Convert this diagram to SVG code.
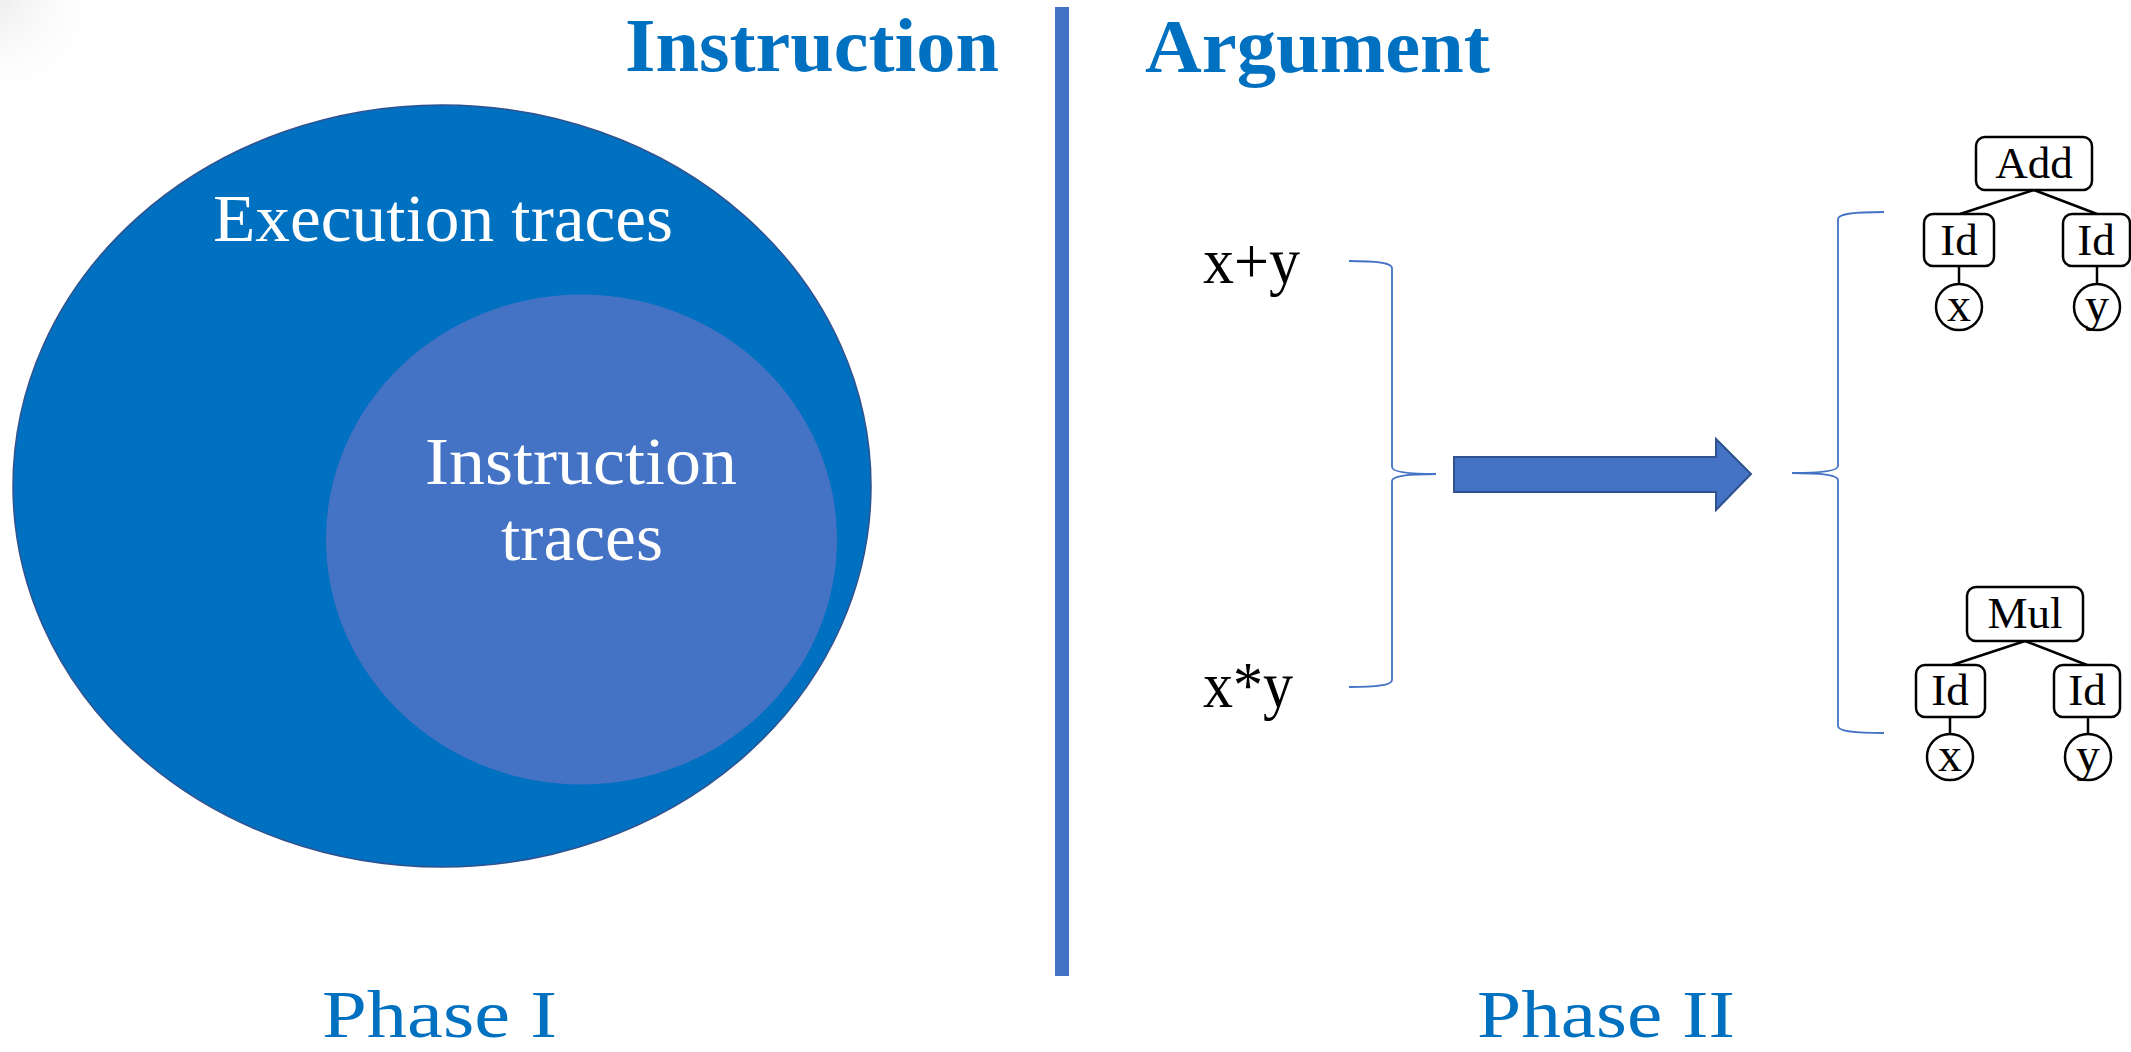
<svg xmlns="http://www.w3.org/2000/svg" width="2131" height="1052" viewBox="0 0 2131 1052">
<style>
.title{font-family:"Liberation Serif",serif;font-weight:bold;font-size:76px;fill:#0070C0}
.phase{font-family:"Liberation Serif",serif;font-size:68px;fill:#0070C0}
.white{font-family:"Liberation Serif",serif;font-size:68px;fill:#ffffff}
.expr{font-family:"Liberation Serif",serif;font-size:66px;fill:#000000}
.tn{font-family:"Liberation Serif",serif;font-size:45px;fill:#000000;text-anchor:middle}
.leaf{font-family:"Liberation Serif",serif;font-size:48px;fill:#000000;text-anchor:middle}
.box{fill:#ffffff;stroke:#000000;stroke-width:2.5}
.edge{stroke:#000000;stroke-width:2.5;fill:none}
.brace{stroke:#4472C4;stroke-width:1.8;fill:none}
</style>
<defs>
<radialGradient id="corner" cx="0" cy="0" r="1" gradientUnits="objectBoundingBox">
<stop offset="0" stop-color="#eeeeee"/>
<stop offset="1" stop-color="#ffffff" stop-opacity="0"/>
</radialGradient>
</defs>
<rect x="0" y="0" width="2131" height="1052" fill="#ffffff"/>
<rect x="0" y="0" width="110" height="110" fill="url(#corner)"/>

<g id="divider"><rect x="1055" y="7" width="14" height="969" fill="#4472C4"/></g>

<g id="title-instruction"><text class="title" x="625" y="71" textLength="374" lengthAdjust="spacingAndGlyphs">Instruction</text></g>
<g id="title-argument"><text class="title" x="1145" y="72" textLength="345" lengthAdjust="spacingAndGlyphs">Argument</text></g>

<g id="execution-traces">
<ellipse cx="442" cy="486" rx="429" ry="381" fill="#0070C0" stroke="#2F528F" stroke-width="1.5"/>
<text class="white" x="213" y="241" textLength="460" lengthAdjust="spacingAndGlyphs">Execution traces</text>
</g>
<g id="instruction-traces">
<ellipse cx="581.5" cy="539.5" rx="255.5" ry="245" fill="#4472C4"/>
<text class="white" x="425" y="484" textLength="312" lengthAdjust="spacingAndGlyphs">Instruction</text>
<text class="white" x="501" y="560" textLength="162" lengthAdjust="spacingAndGlyphs">traces</text>
</g>

<g id="phase1"><text class="phase" x="322" y="1037" textLength="235" lengthAdjust="spacingAndGlyphs">Phase I</text></g>
<g id="phase2"><text class="phase" x="1477" y="1037" textLength="258" lengthAdjust="spacingAndGlyphs">Phase II</text></g>

<g id="expr-add"><text class="expr" x="1203" y="283" textLength="97" lengthAdjust="spacingAndGlyphs">x+y</text></g>
<g id="expr-mul"><text class="expr" x="1203" y="707" textLength="90" lengthAdjust="spacingAndGlyphs">x*y</text></g>

<g id="connectors">
<path class="brace" d="M1349,261 C1378,261 1392,263 1392,268 L1392,467 C1392,472 1410,474 1436,474 C1410,474 1392,476 1392,481 L1392,680 C1392,685 1378,687 1349,687"/>
<path class="brace" d="M1884,212 C1852,212 1838,214 1838,219 L1838,466 C1838,471 1820,473 1792,473 C1820,473 1838,475 1838,480 L1838,726 C1838,731 1852,733 1884,733"/>
<path d="M1454,457 L1716,457 L1716,439 L1751,474 L1716,510 L1716,492 L1454,492 Z" fill="#4472C4" stroke="#2F528F" stroke-width="2"/>
<line class="edge" x1="2034" y1="190" x2="1960" y2="214"/>
<line class="edge" x1="2034" y1="190" x2="2097" y2="214"/>
<line class="edge" x1="1959" y1="266" x2="1959" y2="284"/>
<line class="edge" x1="2097" y1="266" x2="2097" y2="284"/>
<line class="edge" x1="2025" y1="641" x2="1952" y2="665"/>
<line class="edge" x1="2025" y1="641" x2="2087" y2="665"/>
<line class="edge" x1="1950" y1="717" x2="1950" y2="734"/>
<line class="edge" x1="2088" y1="717" x2="2088" y2="734"/>
</g>

<g id="node-add"><rect class="box" x="1976" y="137" width="116" height="53" rx="9"/><text class="tn" x="2034" y="178">Add</text></g>
<g id="node-add-id1"><rect class="box" x="1924" y="214" width="70" height="52" rx="9"/><text class="tn" x="1959" y="255">Id</text></g>
<g id="node-add-id2"><rect class="box" x="2063" y="214" width="67" height="52" rx="9"/><text class="tn" x="2096" y="255">Id</text></g>
<g id="node-add-x"><circle class="box" cx="1959" cy="307" r="23"/><text class="leaf" x="1959" y="321">x</text></g>
<g id="node-add-y"><circle class="box" cx="2097" cy="307" r="23"/><text class="leaf" x="2097" y="321">y</text></g>

<g id="node-mul"><rect class="box" x="1967" y="587" width="116" height="54" rx="9"/><text class="tn" x="2025" y="628">Mul</text></g>
<g id="node-mul-id1"><rect class="box" x="1916" y="665" width="69" height="52" rx="9"/><text class="tn" x="1950" y="705">Id</text></g>
<g id="node-mul-id2"><rect class="box" x="2054" y="665" width="66" height="52" rx="9"/><text class="tn" x="2087" y="705">Id</text></g>
<g id="node-mul-x"><circle class="box" cx="1950" cy="757" r="23"/><text class="leaf" x="1950" y="771">x</text></g>
<g id="node-mul-y"><circle class="box" cx="2088" cy="757" r="23"/><text class="leaf" x="2088" y="771">y</text></g>
</svg>
